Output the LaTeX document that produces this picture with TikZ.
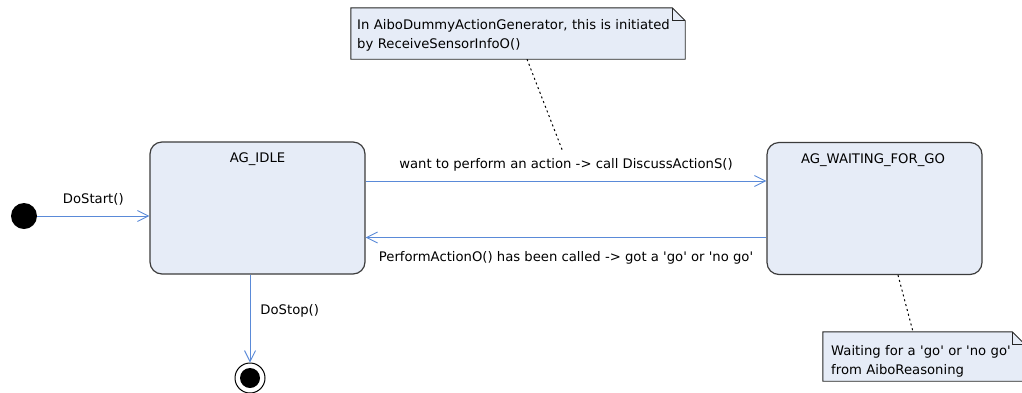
\documentclass[tikz,border=0pt]{standalone}
\usepackage{fontspec}
\setmainfont{DejaVu Sans}
\usetikzlibrary{arrows.meta,backgrounds}

\definecolor{statefill}{RGB}{230,236,247}
\definecolor{stateline}{RGB}{60,60,60}
\definecolor{transblue}{RGB}{90,138,216}

\newcommand\sq{\textquotesingle}

\begin{document}
\begin{tikzpicture}[x=1pt,y=-1pt,
  txt/.style={font=\fontsize{13.2}{19}\selectfont, inner sep=0pt},
  state/.style={draw=stateline, fill=statefill, line width=1.2pt,
    rounded corners=12pt, minimum width=215pt, minimum height=132pt, inner sep=0pt},
  notebox/.style={draw=black!85, fill=statefill, line width=0.9pt, line join=miter},
  notearea/.style={inner sep=0pt},
  trans/.style={draw=transblue, line width=0.9pt,
    -{Straight Barb[length=11pt,width=11pt,line width=0.9pt]}},
  anchorline/.style={draw=black, line width=1pt, dash pattern=on 2pt off 3pt},
  initial/.style={circle, fill=black, minimum size=26pt, inner sep=0pt},
  final/.style={circle, draw=black, line width=1pt, fill=white,
    minimum size=30pt, inner sep=0pt,
    path picture={\fill[black] (path picture bounding box.center) circle (10pt);}},
]
\useasboundingbox (0,0) rectangle (1022,392);

% states
\node[state] (idle) at (257.5,208) {};
\node[txt, anchor=base] (idlet) at (257.5,162.5) {AG\_IDLE};
\node[state] (wait) at (874.5,208.5) {};
\node[txt, anchor=base] (waitt) at (873,163) {AG\_WAITING\_FOR\_GO};

% pseudo states
\node[initial] (init) at (24,216) {};
\node[final] (fin) at (250,378) {};

% notes
\node[notearea, minimum width=334pt, minimum height=51pt] (n1) at (518,33.5) {};
\node[txt, anchor=base west, text width=325pt, align=left] (n1t) at (357,29.5)
  {In AiboDummyActionGenerator, this is initiated\\by ReceiveSensorInfoO()};
\node[notearea, minimum width=202pt, minimum height=49pt] (n2) at (924,356.5) {};
\node[txt, anchor=base west, text width=190pt, align=left] (n2t) at (831,355.5)
  {Waiting for a \sq go\sq{} or \sq no go\sq\\from AiboReasoning};

\begin{scope}[on background layer]
  \foreach \n in {n1,n2}{
    \draw[notebox] (\n.north west) -- ([xshift=-13pt]\n.north east)
      -- ([yshift=-13pt]\n.north east) -- (\n.south east) -- (\n.south west) -- cycle;
    \draw[notebox, fill=none] ([xshift=-13pt]\n.north east) |- ([yshift=-13pt]\n.north east);
  }
\end{scope}

% transitions
\draw[trans] (init) -- (init -| idle.west)
  node[txt, midway, anchor=base, yshift=13pt] (lstart) {DoStart()};
\draw[trans] ([yshift=27pt]idle.east) -- ([yshift=27pt]idle.east -| wait.west)
  node[txt, pos=0.5, anchor=base, yshift=13pt] (lgo) {want to perform an action -> call DiscussActionS()};
\draw[trans] ([yshift=-29pt]wait.west) -- ([yshift=-29pt]wait.west -| idle.east)
  node[txt, pos=0.5, anchor=base, yshift=-24pt] (lback) {PerformActionO() has been called -> got a \sq go\sq{} or \sq no go\sq};
\draw[trans] (fin |- idle.south) -- (fin)
  node[txt, pos=0.45, anchor=base west, xshift=10pt] (lstop) {DoStop()};

% note anchors
\coordinate (c1) at (563,152);
\draw[anchorline] ([xshift=9pt]n1.south) -- (c1);
\draw[anchorline] ([xshift=23.5pt]wait.south) -- ([xshift=-11pt]n2.north);
\end{tikzpicture}
\end{document}
